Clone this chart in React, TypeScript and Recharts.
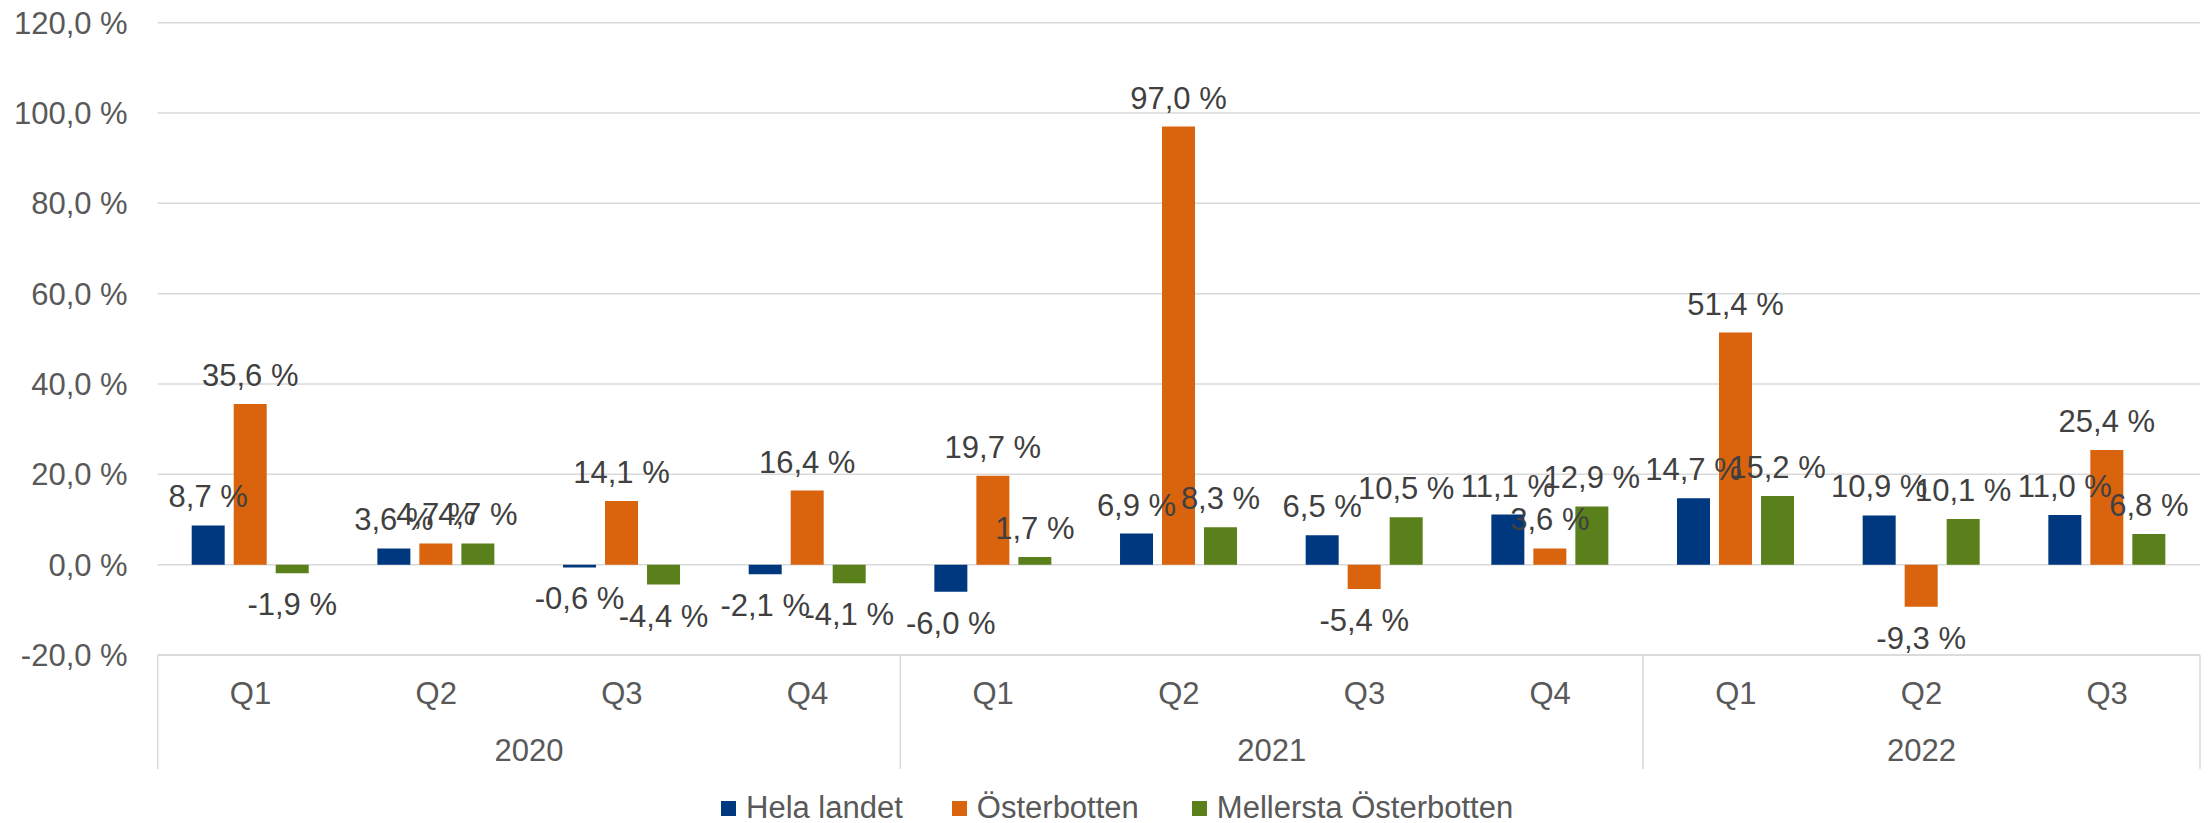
import React from 'react';
import { BarChart, Bar, XAxis, YAxis, CartesianGrid, Legend, LabelList } from 'recharts';

const quarters = ['Q1', 'Q2', 'Q3', 'Q4', 'Q1', 'Q2', 'Q3', 'Q4', 'Q1', 'Q2', 'Q3'];
const years = ['2020', '2020', '2020', '2020', '2021', '2021', '2021', '2021', '2022', '2022', '2022'];
const helaLandet = [8.7, 3.6, -0.6, -2.1, -6.0, 6.9, 6.5, 11.1, 14.7, 10.9, 11.0];
const osterbotten = [35.6, 4.7, 14.1, 16.4, 19.7, 97.0, -5.4, 3.6, 51.4, -9.3, 25.4];
const mellersta = [-1.9, 4.7, -4.4, -4.1, 1.7, 8.3, 10.5, 12.9, 15.2, 10.1, 6.8];
const yTicks = [-20, 0, 20, 40, 60, 80, 100, 120];

const seriesNames = ['Hela landet', 'Österbotten', 'Mellersta Österbotten'];
const seriesKeys = ['hela', 'oster', 'mellersta'];
const seriesColors = ['#00387F', '#DA630E', '#5A801C'];

const data = quarters.map((q, i) => ({
  q: `${years[i]}-${q}`,
  quarter: q,
  year: years[i],
  hela: helaLandet[i],
  oster: osterbotten[i],
  mellersta: mellersta[i],
}));

const W = 2209;
const H = 823;
const FONT = '"Liberation Sans", Arial, sans-serif';
const FS = 31;
const AXIS_COLOR = '#595959';
const LABEL_COLOR = '#404040';
const GRID = '#d9d9d9';
const MARGIN = { top: 22.7, right: 9, left: 0, bottom: 0 };
const Y_WIDTH = 157.7;
const BAND = (W - MARGIN.right - Y_WIDTH) / quarters.length;

const fmt = (v: number) => `${v.toFixed(1).replace('.', ',')} %`;

const DataLabel = (props: any) => {
  const { x, y, width, height, value } = props;
  const v = Number(value);
  const cx = Number(x) + Number(width) / 2;
  const y1 = Number(y);
  const y2 = Number(y) + Number(height);
  let ty;
  if (v >= 0) {
    ty = Math.min(y1, y2) - 18;
  } else {
    ty = Math.max(y1, y2) + 20 + 22;
  }
  return (
    <text x={cx} y={ty} textAnchor="middle" fill={LABEL_COLOR} fontSize={FS} fontFamily={FONT}>
      {fmt(v)}
    </text>
  );
};

const CatTick = (props: any) => {
  const { x, y, index } = props;
  const i = Number(index);
  const yr = years[i];
  const first = i === 0 || years[i - 1] !== yr;
  const last = i === years.length - 1;
  const count = years.filter((v) => v === yr).length;
  const left = x - BAND / 2;
  return (
    <g>
      <text x={x} y={y + 49} textAnchor="middle" fill={AXIS_COLOR} fontSize={FS} fontFamily={FONT}>
        {quarters[i]}
      </text>
      {first && (
        <line x1={left} x2={left} y1={y} y2={y + 114} stroke={GRID} strokeWidth={1.5} />
      )}
      {first && (
        <text x={left + (count * BAND) / 2} y={y + 105.7} textAnchor="middle" fill={AXIS_COLOR} fontSize={FS} fontFamily={FONT}>
          {yr}
        </text>
      )}
      {last && (
        <line x1={x + BAND / 2} x2={x + BAND / 2} y1={y} y2={y + 114} stroke={GRID} strokeWidth={1.5} />
      )}
    </g>
  );
};

const LegendContent = () => (
  <div
    style={{
      display: 'flex',
      alignItems: 'center',
      height: 30,
      lineHeight: '30px',
      paddingLeft: 721,
      fontFamily: FONT,
      fontSize: FS,
      color: AXIS_COLOR,
      whiteSpace: 'nowrap',
    }}
  >
    {seriesNames.map((n, i) => (
      <div key={n} style={{ display: 'flex', alignItems: 'center', marginRight: i === 0 ? 49 : 53 }}>
        <span style={{ display: 'inline-block', width: 15, height: 15, background: seriesColors[i], marginRight: 10 }} />
        <span>{n}</span>
      </div>
    ))}
  </div>
);

export default function App() {
  return (
    <div style={{ position: 'absolute', left: 0, top: 0, width: W, height: H, background: '#fff' }}>
      <BarChart width={W} height={H} data={data} margin={MARGIN} barSize={33} barGap={9}>
        <CartesianGrid vertical={false} stroke={GRID} strokeWidth={1.5} />
        <XAxis
          dataKey="q"
          interval={0}
          tickLine={false}
          tickSize={0}
          tickMargin={0}
          height={138}
          axisLine={{ stroke: GRID, strokeWidth: 1.5 }}
          tick={<CatTick />}
        />
        <YAxis
          domain={[-20, 120]}
          ticks={yTicks}
          tickFormatter={fmt}
          axisLine={false}
          tickLine={false}
          tickSize={0}
          tickMargin={30}
          width={Y_WIDTH}
          tick={{ fill: AXIS_COLOR, fontSize: FS, fontFamily: FONT }}
          allowDataOverflow
        />
        <Legend
          verticalAlign="bottom"
          content={<LegendContent />}
          wrapperStyle={{ left: 0, width: W, height: 30 }}
        />
        {seriesKeys.map((k, i) => (
          <Bar key={k} dataKey={k} name={seriesNames[i]} fill={seriesColors[i]} isAnimationActive={false}>
            <LabelList dataKey={k} content={<DataLabel />} />
          </Bar>
        ))}
      </BarChart>
    </div>
  );
}
